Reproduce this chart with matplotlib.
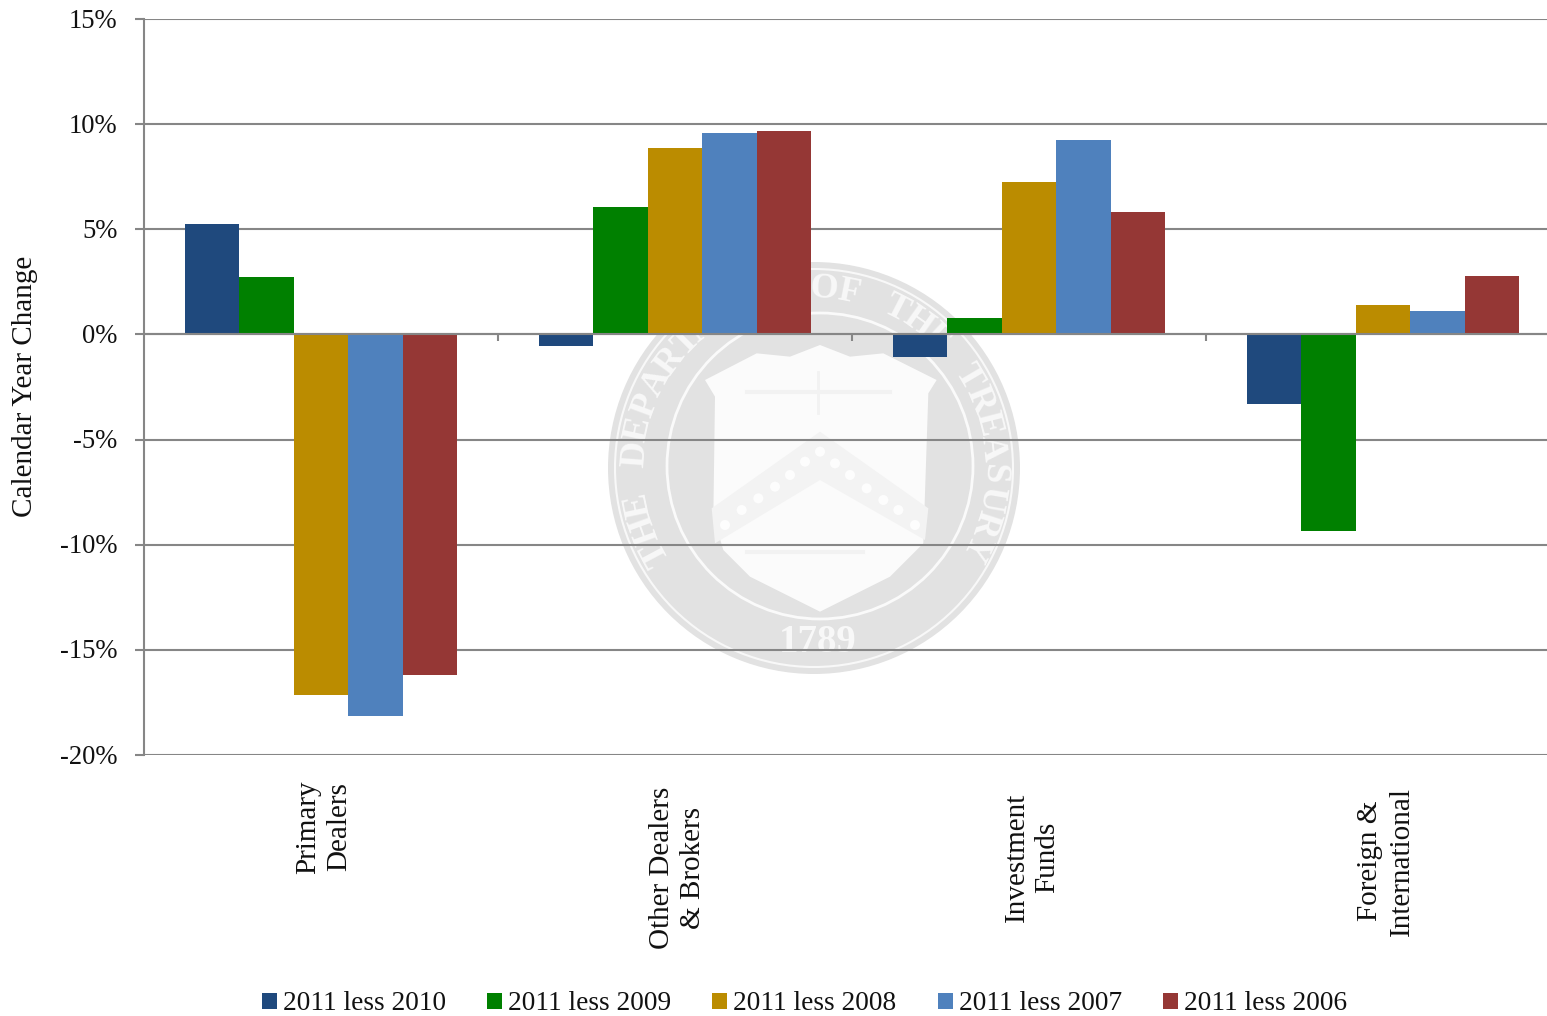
#!/usr/bin/env python3
# -*- coding: utf-8 -*-
import matplotlib
matplotlib.use('Agg')
import matplotlib.pyplot as plt
import numpy as np
from matplotlib.patches import Circle, Polygon
from matplotlib.transforms import ScaledTranslation

categories = ['Primary\nDealers', 'Other Dealers\n& Brokers', 'Investment\nFunds', 'Foreign &\nInternational']
label_y = [-23.41, -25.37, -24.87, -25.05]
series_names = ['2011 less 2010', '2011 less 2009', '2011 less 2008', '2011 less 2007', '2011 less 2006']
less_2010 = [5.25, -0.55, -1.05, -3.3]
less_2009 = [2.75, 6.05, 0.8, -9.35]
less_2008 = [-17.15, 8.87, 7.27, 1.42]
less_2007 = [-18.15, 9.6, 9.25, 1.12]
less_2006 = [-16.2, 9.67, 5.82, 2.8]
colors = ['#1F497D', '#008000', '#BB8C00', '#4F81BD', '#953735']
yticks = [-20, -15, -10, -5, 0, 5, 10, 15]

plt.rcParams['font.family'] = ['Liberation Serif', 'DejaVu Serif']
GRID = '#868686'
W, H = 1547, 1016

fig = plt.figure(figsize=(W / 100, H / 100), dpi=100)

#
# the treasury seal behind the chart, drawn in pixel coordinates
#
bg = fig.add_axes([0, 0, 1, 1], zorder=0)
bg.set_xlim(0, W)
bg.set_ylim(H, 0)
bg.axis('off')

def zp(pts):
    return [(x / 3 + 590, y / 3 + 250) for x, y in pts]

SEAL = '#E2E2E2'
bg.add_patch(Circle((814, 468), 206, fc=SEAL, ec='none'))
bg.add_patch(Circle((814, 468), 199, fc='none', ec='#F8F8F8', lw=1.5))
bg.add_patch(Circle((820, 466), 153, fc='none', ec='#FAFAFA', lw=2))
shield = [(690, 285), (600, 320), (500, 310), (345, 390), (375, 440), (370, 800), (400, 900),
          (480, 980), (690, 1085), (900, 980), (1000, 880), (1015, 430), (1040, 390), (880, 310), (780, 320)]
bg.add_patch(Polygon(zp(shield), fc='#FBFBFB', ec='none'))
chevron = [(690, 545), (1015, 775), (1005, 870), (690, 690), (375, 880), (365, 775)]
bg.add_patch(Polygon(zp(chevron), fc='#F3F3F3', ec='none'))
stars = [(405, 825), (455, 780), (505, 745), (555, 710), (600, 675), (645, 635), (690, 605),
         (735, 640), (780, 675), (830, 715), (880, 750), (925, 780), (975, 825)]
for s in zp(stars):
    bg.add_patch(Circle(s, 5, fc='#FDFDFD', ec='none'))
bg.plot(*zip(*zp([(685, 365), (685, 490)])), color='#F2F2F2', lw=2)
bg.plot(*zip(*zp([(470, 425), (900, 425)])), color='#F2F2F2', lw=3)
bg.plot(*zip(*zp([(470, 905), (820, 905)])), color='#F2F2F2', lw=3)

motto = 'THE DEPARTMENT OF THE TREASURY'
angles = np.linspace(-118, 116, len(motto))
for ch, a in zip(motto, angles):
    if ch == ' ':
        continue
    r = np.radians(a)
    bg.text(814 + 179 * np.sin(r), 468 - 179 * np.cos(r), ch, rotation=-a, rotation_mode='anchor',
            ha='center', va='center', fontsize=26, fontweight='bold', color='#F8F8F8')
bg.text(818, 642, '1789', ha='center', va='center', fontsize=28, fontweight='bold', color='#F8F8F8')

#
# the chart itself
#
ax = fig.add_axes([144 / W, 1 - 755 / H, (W - 144) / W, (755 - 19) / H], zorder=1)
ax.patch.set_alpha(0)
ax.set_xlim(0, (W - 144) / 354)
ax.set_ylim(-20, 15)

all_series = [less_2010, less_2009, less_2008, less_2007, less_2006]
x = np.arange(len(categories)) + 0.5
bw = 0.1541
for i, vals in enumerate(all_series):
    ax.bar(x + (i - 2) * bw, vals, bw, color=colors[i], label=series_names[i], zorder=3, linewidth=0)

ax.set_yticks(yticks)
ax.set_yticklabels([str(t) + '%' for t in yticks], fontsize=19.2, color='#111111')
ax.tick_params(axis='y', length=6.5, width=1.5, color=GRID, pad=12.5)
# labels sit a pixel higher in the original
nudge = ScaledTranslation(0, 1 / 100, fig.dpi_scale_trans)
for lab in ax.get_yticklabels():
    lab.set_transform(lab.get_transform() + nudge)
ax.yaxis.grid(True, color=GRID, linewidth=1.5, zorder=1)
ax.set_axisbelow(True)
ax.set_xticks([1, 2, 3])
ax.set_xticklabels(['', '', ''])
ax.tick_params(axis='x', length=5, width=1.5, color=GRID)

ax.spines['top'].set_visible(False)
ax.spines['right'].set_visible(False)
ax.spines['left'].set_color(GRID)
ax.spines['left'].set_linewidth(1.5)
ax.spines['bottom'].set_color(GRID)
ax.spines['bottom'].set_linewidth(1.5)
ax.spines['bottom'].set_position(('data', 0))
ax.spines['bottom'].set_zorder(4)

for px, py, name in zip(x, label_y, categories):
    ax.text(px + 3 / 354, py, name, rotation=90, ha='center', va='center', multialignment='center',
            fontsize=21, linespacing=1.25, color='#111111', clip_on=False)

fig.text(25 / W, 1 - 386 / H, 'Calendar Year Change', rotation=90, ha='center', va='center',
         fontsize=21, color='#111111')

ax.legend(loc='center', bbox_to_anchor=(804.5 / W, 1 - 1004 / H), bbox_transform=fig.transFigure,
          ncol=5, frameon=False, fontsize=19.7, handlelength=0.55, handleheight=0.55,
          handletextpad=0.22, columnspacing=1.5, borderpad=0, labelcolor='#111111')

plt.savefig('out.png', dpi=100)
plt.close()
